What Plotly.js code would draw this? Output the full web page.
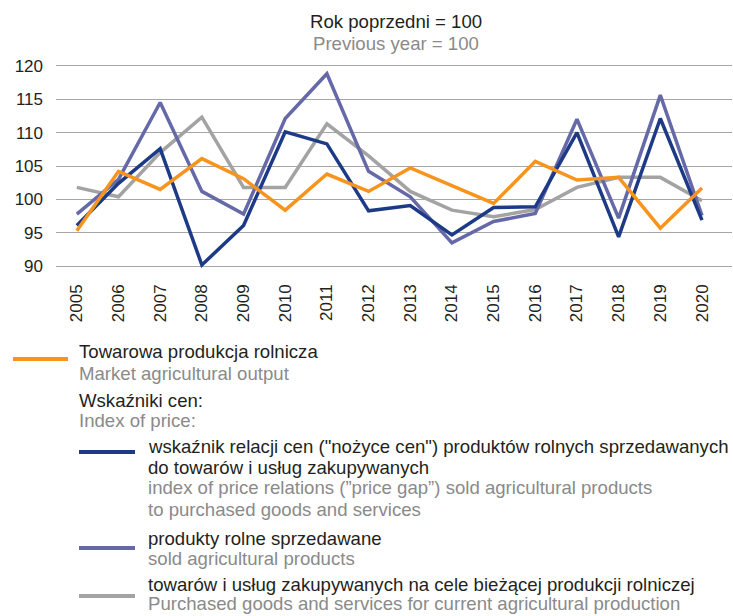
<!DOCTYPE html>
<html>
<head>
<meta charset="utf-8">
<script src="https://cdn.plot.ly/plotly-3.0.1.min.js"></script>
<style>
  html, body { margin: 0; padding: 0; background: #fff; }
  #chart { width: 733px; height: 616px; }
</style>
</head>
<body>
<div id="chart"></div>
<script>
var years = ['2005','2006','2007','2008','2009','2010','2011','2012',
             '2013','2014','2015','2016','2017','2018','2019','2020'];

// Towarowa produkcja rolnicza / Market agricultural output
var towarowa = [95.3, 104.2, 101.5, 106.1, 103.1, 98.4, 103.8, 101.2,
                104.7, 102.0, 99.4, 105.7, 102.9, 103.3, 95.7, 101.7];
// wskaźnik relacji cen ("nożyce cen")
var nozyce = [96.1, 102.4, 107.6, 90.2, 96.1, 110.1, 108.3, 98.3,
              99.1, 94.7, 98.8, 98.9, 110.0, 94.4, 112.1, 96.9];
// produkty rolne sprzedawane
var sprzedawane = [97.8, 103.0, 114.5, 101.2, 97.8, 112.1, 118.8, 104.2,
                   100.4, 93.5, 96.7, 97.9, 112.0, 97.2, 115.6, 97.6];
// towarów i usług zakupywanych na cele bieżącej produkcji rolniczej
var zakupywane = [101.8, 100.4, 107.0, 112.3, 101.8, 101.8, 111.3, 106.5,
                  101.2, 98.4, 97.4, 98.5, 101.8, 103.3, 103.3, 99.8];

var yTicks = [90, 95, 100, 105, 110, 115, 120];

var colors = {
  orange: '#f7941d',
  navy: '#1d3a87',
  purple: '#6569a8',
  gray: '#a3a3a3'
};
var FONT = 'Liberation Sans, Arial, sans-serif';
var DARK = '#231f20';
var LIGHT = '#8a8a8a';
var TEXT_SIZE = 18.6;

// page pixels -> paper coords (plot area 56..732 x 59..273)
var L = 56, R = 1, T = 59, B = 343, W = 733, H = 616;
function px(x) { return (x - L) / (W - L - R); }
function py(y) { return (H - B - y) / (H - T - B); }

function line(name, y, color) {
  return {
    x: years, y: y, name: name,
    type: 'scatter', mode: 'lines',
    line: {color: color, width: 3.5},
    showlegend: false, hoverinfo: 'skip'
  };
}

var traces = [
  line('towarów i usług zakupywanych', zakupywane, colors.gray),
  line('produkty rolne sprzedawane', sprzedawane, colors.purple),
  line('wskaźnik relacji cen', nozyce, colors.navy),
  line('Towarowa produkcja rolnicza', towarowa, colors.orange)
];

function txt(x, y, text, color, anchor) {
  return {
    xref: 'paper', yref: 'paper', x: px(x), y: py(y),
    xanchor: anchor || 'left', yanchor: 'middle',
    text: text, showarrow: false,
    font: {family: FONT, size: TEXT_SIZE, color: color}
  };
}
function key(x0, x1, y, color) {
  return {
    type: 'line', xref: 'paper', yref: 'paper',
    x0: px(x0), x1: px(x1), y0: py(y), y1: py(y),
    line: {color: color, width: 4}
  };
}

var annotations = [
  txt(396, 22, 'Rok poprzedni = 100', DARK, 'center'),
  txt(396, 43, 'Previous year = 100', LIGHT, 'center'),

  txt(77, 351, 'Towarowa produkcja rolnicza', DARK),
  txt(77, 373, 'Market agricultural output', LIGHT),

  txt(77, 400, 'Wskaźniki cen:', DARK),
  txt(77, 421, 'Index of price:', LIGHT),

  txt(146, 446, 'wskaźnik relacji cen ("nożyce cen") produktów rolnych sprzedawanych', DARK),
  txt(146, 467, 'do towarów i usług zakupywanych', DARK),
  txt(146, 488, 'index of price relations (”price gap”) sold agricultural products', LIGHT),
  txt(146, 509, 'to purchased goods and services', LIGHT),

  txt(146, 538, 'produkty rolne sprzedawane', DARK),
  txt(146, 558, 'sold agricultural products', LIGHT),

  txt(146, 585, 'towarów i usług zakupywanych na cele bieżącej produkcji rolniczej', DARK),
  txt(146, 603, 'Purchased goods and services for current agricultural production', LIGHT)
];

var shapes = [
  key(13, 68, 359, colors.orange),
  key(79, 135, 452, colors.navy),
  key(79, 135, 548, colors.purple),
  key(79, 135, 596, colors.gray)
];

var layout = {
  width: W, height: H,
  margin: {l: L, r: R, t: T, b: B, pad: 0},
  paper_bgcolor: '#fff',
  plot_bgcolor: '#fff',
  font: {family: FONT, size: 17, color: DARK},
  xaxis: {
    type: 'category',
    range: [-0.5, 15.72],
    tickangle: -90,
    showgrid: false,
    zeroline: false,
    showline: false,
    ticks: '',
    ticklabelstandoff: 7,
    tickfont: {family: FONT, size: 17, color: DARK}
  },
  yaxis: {
    range: [89, 121],
    tickvals: yTicks,
    showgrid: true,
    gridcolor: '#a6a6a6',
    gridwidth: 1,
    zeroline: false,
    showline: false,
    ticks: '',
    ticklabelstandoff: 12,
    tickfont: {family: FONT, size: 17, color: DARK}
  },
  annotations: annotations,
  shapes: shapes
};

Plotly.newPlot('chart', traces, layout, {staticPlot: true, displayModeBar: false});
</script>
</body>
</html>
